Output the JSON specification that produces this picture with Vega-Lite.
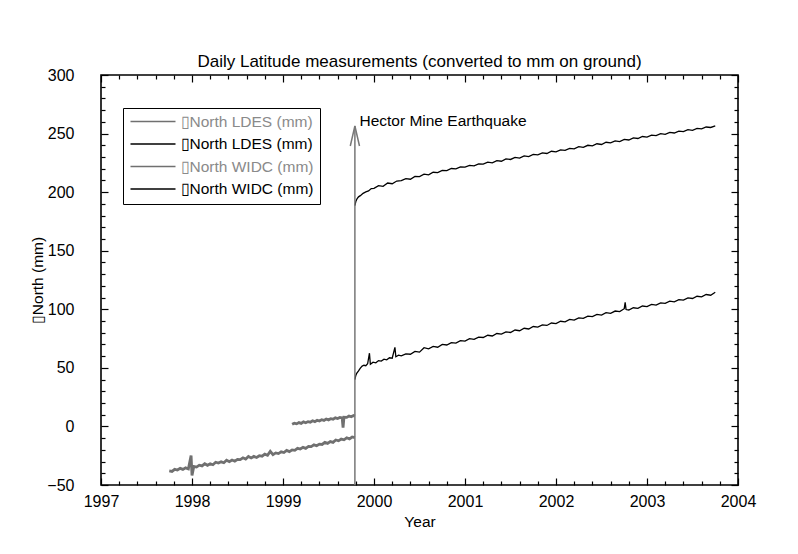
{
  "$schema": "https://vega.github.io/schema/vega-lite/v6.json",
  "width": 637,
  "height": 410,
  "autosize": "none",
  "padding": {"left": 101, "top": 75, "right": 60, "bottom": 69},
  "background": "white",
  "config": {
    "view": {"stroke": "black", "strokeWidth": 1.6},
    "font": "Liberation Sans",
    "axis": {"labelFont": "Liberation Sans", "titleFont": "Liberation Sans", "labelColor": "black", "titleColor": "black", "tickColor": "black", "tickWidth": 1.2, "domain": false, "grid": false, "labelOverlap": false, "labelFlush": false}
  },
  "title": {"text": "Daily Latitude measurements (converted to mm on ground)", "fontSize": 17, "fontWeight": "normal", "font": "Liberation Sans", "color": "black", "anchor": "middle", "baseline": "alphabetic", "offset": 8, "dy": 25},
  "layer": [
    {
      "data": {"values": [
        {"t":1997.75,"v":-38.0,"s":"LDES pre"},{"t":1997.78,"v":-38.4,"s":"LDES pre"},{"t":1997.81,"v":-36.6,"s":"LDES pre"},{"t":1997.84,"v":-37.2,"s":"LDES pre"},{"t":1997.87,"v":-35.8,"s":"LDES pre"},{"t":1997.90,"v":-36.7,"s":"LDES pre"},{"t":1997.93,"v":-35.4,"s":"LDES pre"},{"t":1997.96,"v":-36.3,"s":"LDES pre"},{"t":1997.99,"v":-24.9,"s":"LDES pre"},{"t":1998.00,"v":-41.8,"s":"LDES pre"},{"t":1998.02,"v":-34.1,"s":"LDES pre"},{"t":1998.05,"v":-34.7,"s":"LDES pre"},{"t":1998.08,"v":-33.1,"s":"LDES pre"},{"t":1998.11,"v":-33.7,"s":"LDES pre"},{"t":1998.14,"v":-31.9,"s":"LDES pre"},{"t":1998.17,"v":-33.2,"s":"LDES pre"},{"t":1998.20,"v":-31.8,"s":"LDES pre"},{"t":1998.23,"v":-32.7,"s":"LDES pre"},{"t":1998.26,"v":-30.6,"s":"LDES pre"},{"t":1998.29,"v":-31.3,"s":"LDES pre"},{"t":1998.32,"v":-30.2,"s":"LDES pre"},{"t":1998.35,"v":-31.0,"s":"LDES pre"},{"t":1998.38,"v":-28.9,"s":"LDES pre"},{"t":1998.41,"v":-30.1,"s":"LDES pre"},{"t":1998.44,"v":-28.7,"s":"LDES pre"},{"t":1998.47,"v":-29.7,"s":"LDES pre"},{"t":1998.50,"v":-28.1,"s":"LDES pre"},{"t":1998.53,"v":-28.3,"s":"LDES pre"},{"t":1998.56,"v":-26.8,"s":"LDES pre"},{"t":1998.59,"v":-27.8,"s":"LDES pre"},{"t":1998.62,"v":-25.7,"s":"LDES pre"},{"t":1998.65,"v":-26.9,"s":"LDES pre"},{"t":1998.68,"v":-25.6,"s":"LDES pre"},{"t":1998.71,"v":-26.5,"s":"LDES pre"},{"t":1998.74,"v":-25.0,"s":"LDES pre"},{"t":1998.77,"v":-25.4,"s":"LDES pre"},{"t":1998.80,"v":-23.7,"s":"LDES pre"},{"t":1998.83,"v":-24.6,"s":"LDES pre"},{"t":1998.86,"v":-21.3,"s":"LDES pre"},{"t":1998.89,"v":-24.1,"s":"LDES pre"},{"t":1998.92,"v":-22.6,"s":"LDES pre"},{"t":1998.95,"v":-23.2,"s":"LDES pre"},{"t":1998.98,"v":-21.7,"s":"LDES pre"},{"t":1999.01,"v":-22.3,"s":"LDES pre"},{"t":1999.04,"v":-20.5,"s":"LDES pre"},{"t":1999.07,"v":-21.5,"s":"LDES pre"},{"t":1999.10,"v":-20.0,"s":"LDES pre"},{"t":1999.13,"v":-20.4,"s":"LDES pre"},{"t":1999.16,"v":-18.7,"s":"LDES pre"},{"t":1999.19,"v":-19.3,"s":"LDES pre"},{"t":1999.22,"v":-17.9,"s":"LDES pre"},{"t":1999.25,"v":-18.7,"s":"LDES pre"},{"t":1999.28,"v":-17.0,"s":"LDES pre"},{"t":1999.31,"v":-17.2,"s":"LDES pre"},{"t":1999.34,"v":-15.7,"s":"LDES pre"},{"t":1999.37,"v":-16.5,"s":"LDES pre"},{"t":1999.40,"v":-15.1,"s":"LDES pre"},{"t":1999.43,"v":-15.4,"s":"LDES pre"},{"t":1999.46,"v":-13.6,"s":"LDES pre"},{"t":1999.49,"v":-14.5,"s":"LDES pre"},{"t":1999.52,"v":-12.9,"s":"LDES pre"},{"t":1999.55,"v":-13.6,"s":"LDES pre"},{"t":1999.58,"v":-11.6,"s":"LDES pre"},{"t":1999.61,"v":-12.3,"s":"LDES pre"},{"t":1999.64,"v":-10.8,"s":"LDES pre"},{"t":1999.67,"v":-11.4,"s":"LDES pre"},{"t":1999.70,"v":-9.7,"s":"LDES pre"},{"t":1999.73,"v":-10.6,"s":"LDES pre"},{"t":1999.76,"v":-9.0,"s":"LDES pre"},{"t":1999.79,"v":-9.6,"s":"LDES pre"},
        {"t":1999.100,"v":1.8,"s":"WIDC pre"},{"t":1999.125,"v":2.8,"s":"WIDC pre"},{"t":1999.150,"v":2.2,"s":"WIDC pre"},{"t":1999.175,"v":3.3,"s":"WIDC pre"},{"t":1999.200,"v":2.6,"s":"WIDC pre"},{"t":1999.225,"v":3.9,"s":"WIDC pre"},{"t":1999.250,"v":3.1,"s":"WIDC pre"},{"t":1999.275,"v":4.1,"s":"WIDC pre"},{"t":1999.300,"v":3.6,"s":"WIDC pre"},{"t":1999.325,"v":4.8,"s":"WIDC pre"},{"t":1999.350,"v":4.1,"s":"WIDC pre"},{"t":1999.375,"v":5.3,"s":"WIDC pre"},{"t":1999.400,"v":4.6,"s":"WIDC pre"},{"t":1999.425,"v":5.7,"s":"WIDC pre"},{"t":1999.450,"v":5.1,"s":"WIDC pre"},{"t":1999.475,"v":6.3,"s":"WIDC pre"},{"t":1999.500,"v":5.6,"s":"WIDC pre"},{"t":1999.525,"v":6.6,"s":"WIDC pre"},{"t":1999.550,"v":6.2,"s":"WIDC pre"},{"t":1999.575,"v":7.3,"s":"WIDC pre"},{"t":1999.600,"v":6.7,"s":"WIDC pre"},{"t":1999.625,"v":7.7,"s":"WIDC pre"},{"t":1999.650,"v":7.3,"s":"WIDC pre"},{"t":1999.660,"v":-1.0,"s":"WIDC pre"},{"t":1999.670,"v":7.9,"s":"WIDC pre"},{"t":1999.700,"v":7.7,"s":"WIDC pre"},{"t":1999.725,"v":8.9,"s":"WIDC pre"},{"t":1999.750,"v":8.2,"s":"WIDC pre"},{"t":1999.775,"v":9.3,"s":"WIDC pre"},{"t":1999.790,"v":8.8,"s":"WIDC pre"},
        {"t":1999.790,"v":188.5,"s":"LDES post"},{"t":1999.800,"v":192.0,"s":"LDES post"},{"t":1999.815,"v":194.5,"s":"LDES post"},{"t":1999.830,"v":196.0,"s":"LDES post"},{"t":1999.850,"v":197.0,"s":"LDES post"},{"t":1999.880,"v":199.0,"s":"LDES post"},{"t":1999.910,"v":200.2,"s":"LDES post"},{"t":1999.940,"v":201.0,"s":"LDES post"},{"t":1999.970,"v":203.0,"s":"LDES post"},{"t":2000.000,"v":203.2,"s":"LDES post"},{"t":2000.050,"v":205.5,"s":"LDES post"},{"t":2000.100,"v":205.0,"s":"LDES post"},{"t":2000.150,"v":207.8,"s":"LDES post"},{"t":2000.200,"v":207.2,"s":"LDES post"},{"t":2000.250,"v":209.5,"s":"LDES post"},{"t":2000.300,"v":209.8,"s":"LDES post"},{"t":2000.350,"v":211.6,"s":"LDES post"},{"t":2000.400,"v":211.0,"s":"LDES post"},{"t":2000.450,"v":213.5,"s":"LDES post"},{"t":2000.500,"v":213.2,"s":"LDES post"},{"t":2000.550,"v":215.3,"s":"LDES post"},{"t":2000.600,"v":214.8,"s":"LDES post"},{"t":2000.650,"v":217.0,"s":"LDES post"},{"t":2000.700,"v":216.6,"s":"LDES post"},{"t":2000.750,"v":218.5,"s":"LDES post"},{"t":2000.800,"v":218.4,"s":"LDES post"},{"t":2000.850,"v":220.2,"s":"LDES post"},{"t":2000.900,"v":219.8,"s":"LDES post"},{"t":2000.950,"v":221.6,"s":"LDES post"},{"t":2001.000,"v":221.3,"s":"LDES post"},{"t":2001.050,"v":222.9,"s":"LDES post"},{"t":2001.100,"v":222.5,"s":"LDES post"},{"t":2001.150,"v":224.2,"s":"LDES post"},{"t":2001.200,"v":223.9,"s":"LDES post"},{"t":2001.250,"v":225.6,"s":"LDES post"},{"t":2001.300,"v":225.0,"s":"LDES post"},{"t":2001.350,"v":226.9,"s":"LDES post"},{"t":2001.400,"v":226.4,"s":"LDES post"},{"t":2001.450,"v":228.4,"s":"LDES post"},{"t":2001.500,"v":227.9,"s":"LDES post"},{"t":2001.550,"v":229.6,"s":"LDES post"},{"t":2001.600,"v":229.1,"s":"LDES post"},{"t":2001.650,"v":231.0,"s":"LDES post"},{"t":2001.700,"v":230.4,"s":"LDES post"},{"t":2001.750,"v":232.2,"s":"LDES post"},{"t":2001.800,"v":231.8,"s":"LDES post"},{"t":2001.850,"v":233.5,"s":"LDES post"},{"t":2001.900,"v":233.0,"s":"LDES post"},{"t":2001.950,"v":234.9,"s":"LDES post"},{"t":2002.000,"v":234.4,"s":"LDES post"},{"t":2002.050,"v":236.1,"s":"LDES post"},{"t":2002.100,"v":235.6,"s":"LDES post"},{"t":2002.150,"v":237.4,"s":"LDES post"},{"t":2002.200,"v":236.9,"s":"LDES post"},{"t":2002.250,"v":238.8,"s":"LDES post"},{"t":2002.300,"v":238.2,"s":"LDES post"},{"t":2002.350,"v":240.0,"s":"LDES post"},{"t":2002.400,"v":239.5,"s":"LDES post"},{"t":2002.450,"v":241.3,"s":"LDES post"},{"t":2002.500,"v":240.7,"s":"LDES post"},{"t":2002.550,"v":242.6,"s":"LDES post"},{"t":2002.600,"v":242.0,"s":"LDES post"},{"t":2002.650,"v":243.8,"s":"LDES post"},{"t":2002.700,"v":243.2,"s":"LDES post"},{"t":2002.750,"v":245.1,"s":"LDES post"},{"t":2002.800,"v":244.5,"s":"LDES post"},{"t":2002.850,"v":246.3,"s":"LDES post"},{"t":2002.900,"v":245.8,"s":"LDES post"},{"t":2002.950,"v":247.5,"s":"LDES post"},{"t":2003.000,"v":247.0,"s":"LDES post"},{"t":2003.050,"v":248.6,"s":"LDES post"},{"t":2003.100,"v":248.2,"s":"LDES post"},{"t":2003.150,"v":249.9,"s":"LDES post"},{"t":2003.200,"v":249.3,"s":"LDES post"},{"t":2003.250,"v":251.0,"s":"LDES post"},{"t":2003.300,"v":250.5,"s":"LDES post"},{"t":2003.350,"v":252.1,"s":"LDES post"},{"t":2003.400,"v":251.6,"s":"LDES post"},{"t":2003.450,"v":253.3,"s":"LDES post"},{"t":2003.500,"v":252.8,"s":"LDES post"},{"t":2003.550,"v":254.4,"s":"LDES post"},{"t":2003.600,"v":254.0,"s":"LDES post"},{"t":2003.650,"v":255.6,"s":"LDES post"},{"t":2003.700,"v":255.2,"s":"LDES post"},{"t":2003.750,"v":256.5,"s":"LDES post"},
        {"t":1999.790,"v":40.0,"s":"WIDC post"},{"t":1999.800,"v":43.5,"s":"WIDC post"},{"t":1999.810,"v":45.4,"s":"WIDC post"},{"t":1999.830,"v":47.5,"s":"WIDC post"},{"t":1999.850,"v":49.8,"s":"WIDC post"},{"t":1999.870,"v":51.5,"s":"WIDC post"},{"t":1999.890,"v":52.2,"s":"WIDC post"},{"t":1999.910,"v":51.8,"s":"WIDC post"},{"t":1999.930,"v":53.5,"s":"WIDC post"},{"t":1999.950,"v":62.5,"s":"WIDC post"},{"t":1999.960,"v":53.0,"s":"WIDC post"},{"t":1999.990,"v":54.8,"s":"WIDC post"},{"t":2000.020,"v":54.3,"s":"WIDC post"},{"t":2000.050,"v":56.2,"s":"WIDC post"},{"t":2000.080,"v":55.8,"s":"WIDC post"},{"t":2000.110,"v":57.4,"s":"WIDC post"},{"t":2000.140,"v":56.9,"s":"WIDC post"},{"t":2000.170,"v":58.6,"s":"WIDC post"},{"t":2000.200,"v":58.2,"s":"WIDC post"},{"t":2000.230,"v":67.5,"s":"WIDC post"},{"t":2000.240,"v":59.5,"s":"WIDC post"},{"t":2000.270,"v":60.8,"s":"WIDC post"},{"t":2000.300,"v":60.2,"s":"WIDC post"},{"t":2000.350,"v":62.0,"s":"WIDC post"},{"t":2000.400,"v":61.6,"s":"WIDC post"},{"t":2000.450,"v":64.0,"s":"WIDC post"},{"t":2000.500,"v":63.4,"s":"WIDC post"},{"t":2000.550,"v":67.2,"s":"WIDC post"},{"t":2000.600,"v":66.2,"s":"WIDC post"},{"t":2000.650,"v":68.3,"s":"WIDC post"},{"t":2000.700,"v":67.6,"s":"WIDC post"},{"t":2000.750,"v":70.0,"s":"WIDC post"},{"t":2000.800,"v":69.5,"s":"WIDC post"},{"t":2000.850,"v":71.6,"s":"WIDC post"},{"t":2000.900,"v":71.1,"s":"WIDC post"},{"t":2000.950,"v":73.2,"s":"WIDC post"},{"t":2001.000,"v":72.8,"s":"WIDC post"},{"t":2001.050,"v":74.9,"s":"WIDC post"},{"t":2001.100,"v":74.3,"s":"WIDC post"},{"t":2001.150,"v":76.3,"s":"WIDC post"},{"t":2001.200,"v":75.9,"s":"WIDC post"},{"t":2001.250,"v":77.8,"s":"WIDC post"},{"t":2001.300,"v":77.2,"s":"WIDC post"},{"t":2001.350,"v":79.3,"s":"WIDC post"},{"t":2001.400,"v":78.8,"s":"WIDC post"},{"t":2001.450,"v":80.7,"s":"WIDC post"},{"t":2001.500,"v":80.2,"s":"WIDC post"},{"t":2001.550,"v":82.3,"s":"WIDC post"},{"t":2001.600,"v":81.7,"s":"WIDC post"},{"t":2001.650,"v":83.8,"s":"WIDC post"},{"t":2001.700,"v":83.2,"s":"WIDC post"},{"t":2001.750,"v":85.3,"s":"WIDC post"},{"t":2001.800,"v":84.8,"s":"WIDC post"},{"t":2001.850,"v":86.7,"s":"WIDC post"},{"t":2001.900,"v":86.2,"s":"WIDC post"},{"t":2001.950,"v":88.3,"s":"WIDC post"},{"t":2002.000,"v":87.8,"s":"WIDC post"},{"t":2002.050,"v":89.8,"s":"WIDC post"},{"t":2002.100,"v":89.2,"s":"WIDC post"},{"t":2002.150,"v":91.3,"s":"WIDC post"},{"t":2002.200,"v":90.7,"s":"WIDC post"},{"t":2002.250,"v":92.7,"s":"WIDC post"},{"t":2002.300,"v":92.2,"s":"WIDC post"},{"t":2002.350,"v":94.2,"s":"WIDC post"},{"t":2002.400,"v":93.7,"s":"WIDC post"},{"t":2002.450,"v":95.6,"s":"WIDC post"},{"t":2002.500,"v":95.0,"s":"WIDC post"},{"t":2002.550,"v":97.2,"s":"WIDC post"},{"t":2002.600,"v":96.6,"s":"WIDC post"},{"t":2002.650,"v":98.5,"s":"WIDC post"},{"t":2002.700,"v":98.0,"s":"WIDC post"},{"t":2002.750,"v":100.5,"s":"WIDC post"},{"t":2002.760,"v":106.0,"s":"WIDC post"},{"t":2002.770,"v":99.8,"s":"WIDC post"},{"t":2002.800,"v":99.4,"s":"WIDC post"},{"t":2002.850,"v":101.3,"s":"WIDC post"},{"t":2002.900,"v":100.8,"s":"WIDC post"},{"t":2002.950,"v":102.8,"s":"WIDC post"},{"t":2003.000,"v":102.3,"s":"WIDC post"},{"t":2003.050,"v":104.2,"s":"WIDC post"},{"t":2003.100,"v":103.6,"s":"WIDC post"},{"t":2003.150,"v":105.5,"s":"WIDC post"},{"t":2003.200,"v":105.0,"s":"WIDC post"},{"t":2003.250,"v":107.0,"s":"WIDC post"},{"t":2003.300,"v":106.4,"s":"WIDC post"},{"t":2003.350,"v":108.3,"s":"WIDC post"},{"t":2003.400,"v":107.8,"s":"WIDC post"},{"t":2003.450,"v":109.7,"s":"WIDC post"},{"t":2003.500,"v":109.2,"s":"WIDC post"},{"t":2003.550,"v":111.1,"s":"WIDC post"},{"t":2003.600,"v":110.6,"s":"WIDC post"},{"t":2003.650,"v":112.6,"s":"WIDC post"},{"t":2003.700,"v":112.0,"s":"WIDC post"},{"t":2003.750,"v":114.5,"s":"WIDC post"}
      ]},
      "mark": {"type": "line", "interpolate": "linear"},
      "encoding": {
        "x": {"field": "t", "type": "quantitative",
          "scale": {"domain": [1997, 2004], "nice": false, "zero": false},
          "axis": {"orient": "bottom", "title": "Year", "titleFontSize": 15.5, "titleFontWeight": "normal", "titlePadding": 2,
            "values": [1997,1997.2,1997.4,1997.6,1997.8,1998,1998.2,1998.4,1998.6,1998.8,1999,1999.2,1999.4,1999.6,1999.8,2000,2000.2,2000.4,2000.6,2000.8,2001,2001.2,2001.4,2001.6,2001.8,2002,2002.2,2002.4,2002.6,2002.8,2003,2003.2,2003.4,2003.6,2003.8,2004],
            "labelExpr": "abs(datum.value - round(datum.value)) < 0.01 ? format(datum.value, 'd') : ''",
            "labelFontSize": 16, "labelPadding": 15,
            "tickSize": {"condition": {"test": "abs(datum.value - round(datum.value)) < 0.01", "value": -7}, "value": -4}}},
        "y": {"field": "v", "type": "quantitative",
          "scale": {"domain": [-50, 300], "nice": false, "zero": false},
          "axis": {"orient": "left", "title": "▯North (mm)", "titleFontSize": 15.5, "titleFontWeight": "normal", "titlePadding": 1,
            "values": [-50,-40,-30,-20,-10,0,10,20,30,40,50,60,70,80,90,100,110,120,130,140,150,160,170,180,190,200,210,220,230,240,250,260,270,280,290,300],
            "labelExpr": "abs(datum.value/50 - round(datum.value/50)) < 0.01 ? format(datum.value, 'd') : ''",
            "labelFontSize": 16, "labelPadding": 34,
            "tickSize": {"condition": {"test": "abs(datum.value/50 - round(datum.value/50)) < 0.01", "value": -7}, "value": -4}}},
        "color": {"field": "s", "type": "nominal",
          "scale": {"domain": ["LDES pre", "LDES post", "WIDC pre", "WIDC post"], "range": ["#707070", "#000000", "#707070", "#000000"]},
          "legend": {"orient": "none", "legendX": 22, "legendY": 33, "title": null, "direction": "vertical",
            "symbolType": "stroke", "symbolSize": 2025, "symbolStrokeWidth": 1.3, "clipHeight": 14, "rowPadding": 6.5,
            "labelExpr": "'▯North ' + substring(datum.label, 0, 4) + ' (mm)'",
            "labelColor": {"expr": "indexof(datum.value, 'pre') >= 0 ? '#8a8a8a' : 'black'"},
            "labelFont": "Liberation Sans", "labelFontSize": 15.5, "labelOffset": 4,
            "strokeColor": "black", "fillColor": "white", "padding": 6.5}},
        "strokeWidth": {"condition": {"test": "indexof(datum.s, 'pre') >= 0", "value": 2.8}, "value": 1.3}
      }
    },
    {
      "data": {"values": [{"t": 1999.79, "y0": -50, "y1": 256.5}]},
      "mark": {"type": "rule", "color": "#777777", "strokeWidth": 1.5},
      "encoding": {
        "x": {"field": "t", "type": "quantitative", "axis": {"orient": "top", "labels": false, "title": null,
            "values": [1997,1997.2,1997.4,1997.6,1997.8,1998,1998.2,1998.4,1998.6,1998.8,1999,1999.2,1999.4,1999.6,1999.8,2000,2000.2,2000.4,2000.6,2000.8,2001,2001.2,2001.4,2001.6,2001.8,2002,2002.2,2002.4,2002.6,2002.8,2003,2003.2,2003.4,2003.6,2003.8,2004],
            "tickSize": {"condition": {"test": "abs(datum.value - round(datum.value)) < 0.01", "value": -7}, "value": -4}}},
        "y": {"field": "y0", "type": "quantitative", "axis": {"orient": "right", "labels": false, "title": null,
            "values": [-50,-40,-30,-20,-10,0,10,20,30,40,50,60,70,80,90,100,110,120,130,140,150,160,170,180,190,200,210,220,230,240,250,260,270,280,290,300],
            "tickSize": {"condition": {"test": "abs(datum.value/50 - round(datum.value/50)) < 0.01", "value": -7}, "value": -4}}},
        "y2": {"field": "y1"}
      }
    },
    {
      "data": {"values": [{"t": 1999.79, "v": 256.5}]},
      "mark": {"type": "point", "shape": "M -0.23 1 L 0 0 L 0.23 1", "filled": false, "stroke": "#777777", "strokeWidth": 1.5, "size": 1600, "opacity": 1},
      "encoding": {
        "x": {"field": "t", "type": "quantitative", "axis": null},
        "y": {"field": "v", "type": "quantitative", "axis": null}
      }
    },
    {
      "data": {"values": [{"t": 1999.84, "v": 256.6, "label": "Hector Mine Earthquake"}]},
      "mark": {"type": "text", "align": "left", "baseline": "alphabetic", "font": "Liberation Sans", "fontSize": 15.5, "color": "black"},
      "encoding": {
        "x": {"field": "t", "type": "quantitative", "axis": null},
        "y": {"field": "v", "type": "quantitative", "axis": null},
        "text": {"field": "label"}
      }
    }
  ]
}
